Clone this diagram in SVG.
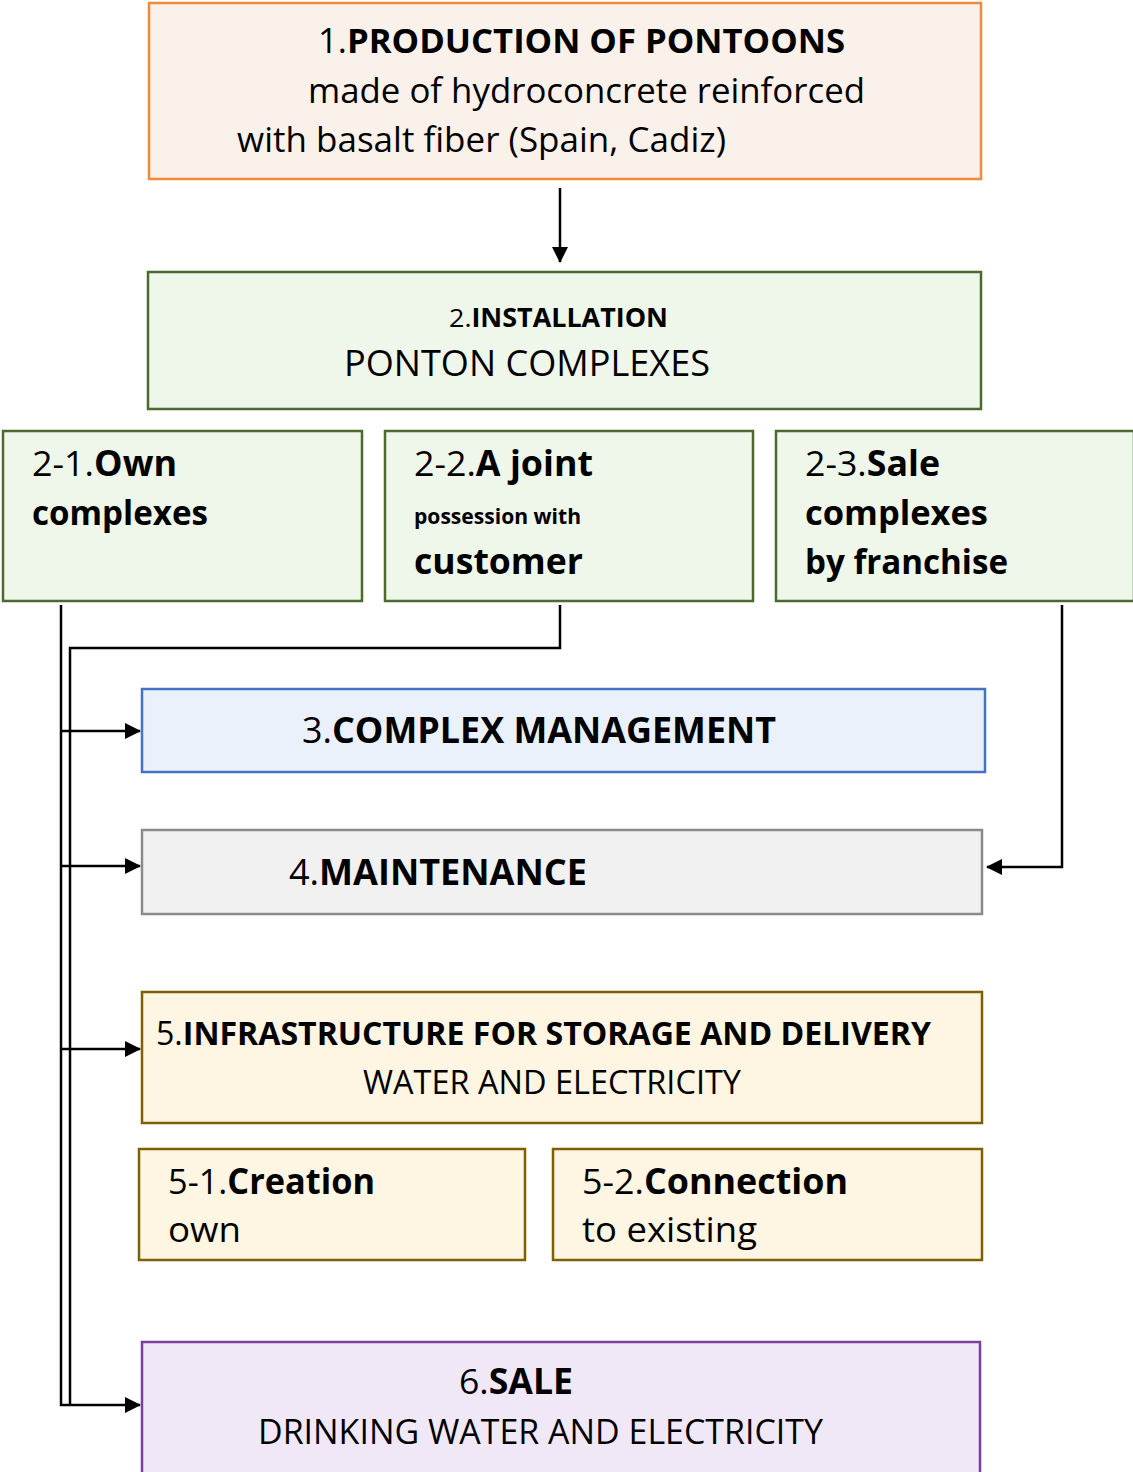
<svg xmlns="http://www.w3.org/2000/svg" width="1133" height="1472" viewBox="0 0 1133 1472">
  <style>
    text { font-family: "Open Sans", "Noto Sans", "DejaVu Sans", sans-serif; fill: #000; }
    .b { font-weight: bold; }
    .box { stroke-width: 2.5; }
    .orange { fill: #FBF1EB; stroke: #F08A3C; }
    .green { fill: #EFF6EA; stroke: #4B6A2E; }
    .blue { fill: #EAF1FA; stroke: #4472C4; }
    .grey { fill: #F1F1F1; stroke: #8A8A8A; }
    .gold { fill: #FEF5E2; stroke: #7F6000; }
    .purple { fill: #F0E8F6; stroke: #7B3FA0; }
    .wire { fill: none; stroke: #000; stroke-width: 2.5; }
  </style>
  <defs>
    <marker id="arrow" markerWidth="16" markerHeight="16" refX="15" refY="8" orient="auto" markerUnits="userSpaceOnUse">
      <path d="M0,0 L16,8 L0,16 Z" fill="#000"/>
    </marker>
  </defs>

  <rect width="1133" height="1472" fill="#fff"/>

  <g id="n1">
    <rect class="box orange" x="149" y="3" width="832" height="176"/>
    <text x="318" y="53" font-size="34.5" textLength="527" lengthAdjust="spacingAndGlyphs">1.<tspan class="b">PRODUCTION OF PONTOONS</tspan></text>
    <text x="308" y="103" font-size="35" textLength="557" lengthAdjust="spacingAndGlyphs">made of hydroconcrete reinforced</text>
    <text x="237" y="152" font-size="35" textLength="489" lengthAdjust="spacingAndGlyphs">with basalt fiber (Spain, Cadiz)</text>
  </g>

  <g id="n2">
    <rect class="box green" x="148" y="272" width="833" height="137"/>
    <text x="449" y="327" font-size="26" textLength="219" lengthAdjust="spacingAndGlyphs">2.<tspan class="b">INSTALLATION</tspan></text>
    <text x="344" y="376" font-size="36" textLength="366" lengthAdjust="spacingAndGlyphs">PONTON COMPLEXES</text>
  </g>

  <g id="n2-1">
    <rect class="box green" x="3" y="431" width="359" height="170"/>
    <text x="32" y="476" font-size="35" textLength="145" lengthAdjust="spacingAndGlyphs">2-1.<tspan class="b">Own</tspan></text>
    <text x="32" y="525" font-size="34" class="b" textLength="176" lengthAdjust="spacingAndGlyphs">complexes</text>
  </g>

  <g id="n2-2">
    <rect class="box green" x="385" y="431" width="368" height="170"/>
    <text x="414" y="476" font-size="35" textLength="179" lengthAdjust="spacingAndGlyphs">2-2.<tspan class="b">A joint</tspan></text>
    <text x="414" y="524" font-size="21" class="b" textLength="167" lengthAdjust="spacingAndGlyphs">possession with</text>
    <text x="414" y="574" font-size="35" class="b" textLength="169" lengthAdjust="spacingAndGlyphs">customer</text>
  </g>

  <g id="n2-3">
    <rect class="box green" x="776" y="431" width="358" height="170"/>
    <text x="805" y="476" font-size="35" textLength="135" lengthAdjust="spacingAndGlyphs">2-3.<tspan class="b">Sale</tspan></text>
    <text x="805" y="525" font-size="34" class="b" textLength="183" lengthAdjust="spacingAndGlyphs">complexes</text>
    <text x="805" y="574" font-size="34" class="b" textLength="203" lengthAdjust="spacingAndGlyphs">by franchise</text>
  </g>

  <g id="n3">
    <rect class="box blue" x="142" y="689" width="843" height="83"/>
    <text x="302" y="743" font-size="36" textLength="474" lengthAdjust="spacingAndGlyphs">3.<tspan class="b">COMPLEX MANAGEMENT</tspan></text>
  </g>

  <g id="n4">
    <rect class="box grey" x="142" y="830" width="840" height="84"/>
    <text x="289" y="885" font-size="36" textLength="298" lengthAdjust="spacingAndGlyphs">4.<tspan class="b">MAINTENANCE</tspan></text>
  </g>

  <g id="n5">
    <rect class="box gold" x="142" y="992" width="840" height="131"/>
    <text x="156" y="1045" font-size="32" textLength="775" lengthAdjust="spacingAndGlyphs">5.<tspan class="b">INFRASTRUCTURE FOR STORAGE AND DELIVERY</tspan></text>
    <text x="363" y="1094" font-size="32" textLength="378" lengthAdjust="spacingAndGlyphs">WATER AND ELECTRICITY</text>
  </g>

  <g id="n5-1">
    <rect class="box gold" x="139" y="1149" width="386" height="111"/>
    <text x="168" y="1194" font-size="35" textLength="207" lengthAdjust="spacingAndGlyphs">5-1.<tspan class="b">Creation</tspan></text>
    <text x="168" y="1242" font-size="35" textLength="73" lengthAdjust="spacingAndGlyphs">own</text>
  </g>

  <g id="n5-2">
    <rect class="box gold" x="553" y="1149" width="429" height="111"/>
    <text x="582" y="1194" font-size="35" textLength="266" lengthAdjust="spacingAndGlyphs">5-2.<tspan class="b">Connection</tspan></text>
    <text x="582" y="1242" font-size="35" textLength="175" lengthAdjust="spacingAndGlyphs">to existing</text>
  </g>

  <g id="n6">
    <rect class="box purple" x="142" y="1342" width="838" height="140"/>
    <text x="459" y="1394" font-size="35" textLength="114" lengthAdjust="spacingAndGlyphs">6.<tspan class="b">SALE</tspan></text>
    <text x="258" y="1444" font-size="34" textLength="565" lengthAdjust="spacingAndGlyphs">DRINKING WATER AND ELECTRICITY</text>
  </g>

  <g id="connectors">
    <path class="wire" d="M560,188 V262" marker-end="url(#arrow)"/>
    <path class="wire" d="M61,605 V1405 H140" marker-end="url(#arrow)"/>
    <path class="wire" d="M560,605 V648 H70 V1405"/>
    <path class="wire" d="M61,731 H140" marker-end="url(#arrow)"/>
    <path class="wire" d="M61,866 H140" marker-end="url(#arrow)"/>
    <path class="wire" d="M61,1049 H140" marker-end="url(#arrow)"/>
    <path class="wire" d="M1062,605 V867 H987" marker-end="url(#arrow)"/>
  </g>
</svg>
